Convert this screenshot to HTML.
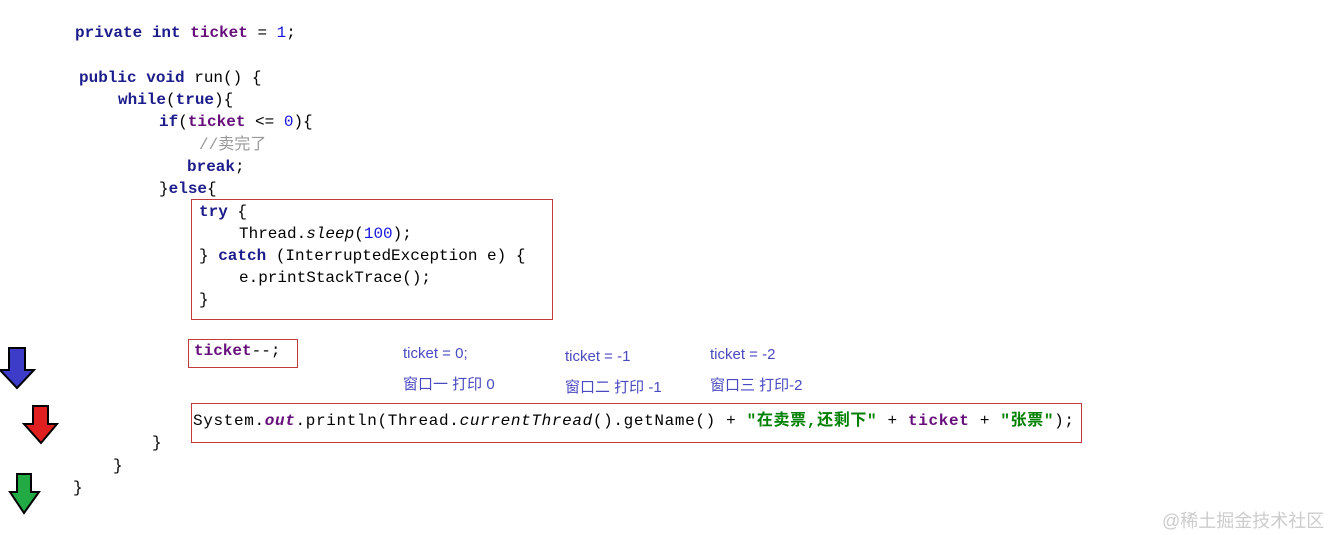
<!DOCTYPE html>
<html><head><meta charset="utf-8"><style>
body{margin:0;width:1328px;height:535px;background:#fff;position:relative;overflow:hidden}
.l{position:absolute;font-family:"Liberation Mono","Noto Sans CJK SC",monospace;font-size:16px;line-height:22px;white-space:pre;color:#000}
.k{color:#1c1c8c;font-weight:bold}
.f{color:#660e7a;font-weight:bold}
.n{color:#1515e0}
.c{color:#999}
.s{color:#008000;font-weight:bold}
.box{position:absolute;border:1px solid #c0393b}
.t{position:absolute;font-family:"Liberation Sans","Noto Sans CJK SC",sans-serif;font-size:15px;color:#4a4ac0;white-space:pre}
</style></head><body>
<div class="l" style="left:75px;top:22px"><span class="k">private int</span> <span class="f">ticket</span> = <span class="n">1</span>;</div>
<div class="l" style="left:79px;top:67px"><span class="k">public void</span> run() {</div>
<div class="l" style="left:118px;top:89px"><span class="k">while</span>(<span class="k">true</span>){</div>
<div class="l" style="left:159px;top:111px"><span class="k">if</span>(<span class="f">ticket</span> &lt;= <span class="n">0</span>){</div>
<div class="l" style="left:199px;top:134px"><span class="c">//卖完了</span></div>
<div class="l" style="left:187px;top:156px"><span class="k">break</span>;</div>
<div class="l" style="left:159px;top:178px">}<span class="k">else</span>{</div>
<div class="box" style="left:191px;top:199px;width:360px;height:119px"></div>
<div class="l" style="left:199px;top:201px"><span class="k">try</span> {</div>
<div class="l" style="left:239px;top:223px">Thread.<i>sleep</i>(<span class="n">100</span>);</div>
<div class="l" style="left:199px;top:245px">} <span class="k">catch</span> (InterruptedException e) {</div>
<div class="l" style="left:239px;top:267px">e.printStackTrace();</div>
<div class="l" style="left:199px;top:289px">}</div>
<div class="box" style="left:188px;top:339px;width:108px;height:27px"></div>
<div class="l" style="left:194px;top:340px"><span class="f">ticket</span>--;</div>
<div class="box" style="left:191px;top:403px;width:889px;height:38px"></div>
<div class="l" style="left:193px;top:410px;letter-spacing:0.65px">System.<b style="color:#660e7a"><i>out</i></b>.println(Thread.<i>currentThread</i>().getName() + <span class="s">"在卖票,还剩下"</span> + <span class="f">ticket</span> + <span class="s">"张票"</span>);</div>
<div class="l" style="left:152px;top:432px">}</div>
<div class="l" style="left:113px;top:455px">}</div>
<div class="l" style="left:73px;top:477px">}</div>
<div class="t" style="left:403px;top:345px">ticket = 0;</div>
<div class="t" style="left:403px;top:373px">窗口一 打印 0</div>
<div class="t" style="left:565px;top:348px">ticket = -1</div>
<div class="t" style="left:565px;top:376px">窗口二 打印 -1</div>
<div class="t" style="left:710px;top:346px">ticket = -2</div>
<div class="t" style="left:710px;top:374px">窗口三 打印-2</div>
<svg style="position:absolute;left:0;top:0" width="80" height="535">
<polygon points="9,348 25,348 25,370 34,370 17,388 0,370 9,370" fill="#3c3cc8" stroke="#000" stroke-width="2"/>
<polygon points="33,406 48,406 48,424 57,424 41,443 24,424 33,424" fill="#e02020" stroke="#000" stroke-width="2"/>
<polygon points="17,474 31,474 31,492 39,492 24,513 10,492 17,492" fill="#22aa44" stroke="#000" stroke-width="2"/>
</svg>
<div style="position:absolute;left:1162px;top:507px;font-family:'Liberation Sans','Noto Sans CJK SC',sans-serif;font-size:18px;color:#ccc">@稀土掘金技术社区</div>
</body></html>
